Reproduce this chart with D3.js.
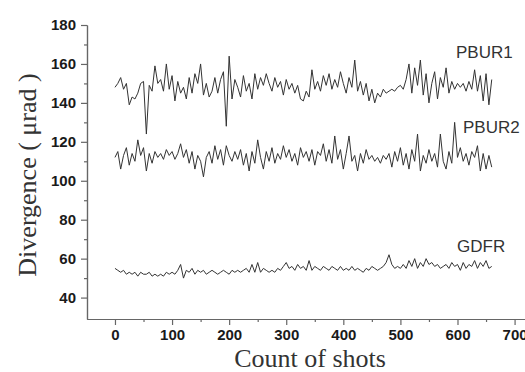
<!DOCTYPE html>
<html>
<head>
<meta charset="utf-8">
<script src="https://cdn.jsdelivr.net/npm/d3@7"></script>
<style>
    body { margin: 0; background: white; }
    #chart { width: 525px; height: 372px; overflow: hidden; }
</style>
</head>
<body>
<div id="chart"></div>
<script>
// shots are sampled every 5 shots, starting at 0
const shotStep = 5;

const pbur1 = [148, 150, 153, 147, 150, 139, 143, 142, 145, 150, 151, 124, 149, 146, 159, 150, 152, 146, 160, 147,
    154, 141, 151, 145, 148, 142, 153, 145, 155, 150, 160, 144, 150, 143, 146, 153, 145, 152, 156, 128,
    164, 142, 152, 148, 143, 154, 146, 150, 142, 155, 147, 153, 149, 155, 150, 146, 153, 148, 151, 144,
    152, 147, 150, 145, 149, 142, 141, 146, 143, 157, 147, 151, 146, 154, 149, 155, 147, 152, 148, 156,
    150, 145, 153, 148, 162, 146, 151, 144, 150, 141, 147, 140, 145, 143, 147, 145, 146, 147, 146, 148,
    149, 147, 152, 160, 145, 158, 149, 162, 144, 155, 140, 150, 156, 142, 153, 148, 158, 145, 151, 147,
    150, 148, 150, 146, 151, 147, 157, 146, 154, 141, 155, 139, 152];

const pbur2 = [112, 115, 106, 113, 117, 108, 114, 110, 121, 113, 117, 105, 114, 109, 115, 112, 114, 111, 116, 113,
    115, 111, 114, 119, 112, 116, 109, 115, 106, 113, 110, 102, 112, 115, 109, 118, 111, 116, 108, 118,
    113, 110, 115, 111, 116, 108, 114, 105, 115, 109, 121, 112, 106, 115, 110, 117, 109, 114, 111, 118,
    112, 116, 110, 114, 108, 117, 112, 115, 110, 116, 108, 115, 113, 119, 110, 116, 109, 123, 111, 116,
    106, 114, 123, 110, 113, 105, 114, 109, 116, 111, 113, 110, 112, 109, 113, 111, 114, 107, 115, 110,
    117, 108, 114, 106, 116, 110, 124, 105, 113, 109, 116, 110, 114, 107, 124, 110, 106, 115, 109, 130,
    112, 117, 110, 114, 108, 115, 112, 118, 105, 114, 106, 113, 107];

const gdfr = [55, 54, 53, 54, 52, 53, 52, 53, 51, 53, 52, 52, 53, 51, 52, 51, 52, 51, 53, 52,
    53, 52, 54, 57, 50, 54, 53, 55, 52, 54, 53, 54, 52, 53, 54, 53, 52, 53, 54, 53,
    52, 54, 53, 54, 53, 54, 55, 53, 57, 53, 58, 53, 55, 54, 53, 54, 53, 55, 54, 56,
    58, 55, 56, 54, 57, 55, 56, 54, 59, 54, 56, 55, 54, 56, 55, 54, 56, 55, 54, 56,
    54, 55, 54, 56, 54, 55, 54, 53, 55, 54, 56, 55, 54, 55, 56, 58, 62, 57, 55, 56,
    55, 57, 55, 59, 56, 60, 55, 58, 56, 60, 57, 58, 56, 57, 55, 56, 57, 55, 58, 56,
    57, 54, 58, 55, 57, 56, 59, 55, 58, 56, 59, 55, 56];

const seriesNames = ["PBUR1", "PBUR2", "GDFR"];
const seriesValues = [pbur1, pbur2, gdfr];

const yMajorTicks = [40, 60, 80, 100, 120, 140, 160, 180];
const yMinorTicks = [50, 70, 90, 110, 130, 150, 170];
const xMajorTicks = [0, 100, 200, 300, 400, 500, 600, 700];
const xMinorTicks = [50, 150, 250, 350, 450, 550, 650];

const width = 525, height = 372;

const svg = d3.select("#chart").append("svg")
    .attr("width", width)
    .attr("height", height)
    .style("background-color", "white");

const x = d3.scaleLinear().domain([-49, 720]).range([87, 526]);
const y = d3.scaleLinear().domain([29, 180]).range([319, 25]);

// axes
function styleAxis(g) {
    g.select(".domain").attr("stroke", "#666").attr("stroke-width", 1.2);
    g.selectAll(".tick line").attr("stroke", "#666").attr("stroke-width", 1.2);
    g.selectAll(".tick text")
        .attr("fill", "#1a1a1a")
        .style("font-family", "'Liberation Sans', Arial, sans-serif")
        .style("font-weight", "bold")
        .style("font-size", "15px");
}

svg.append("g")
    .attr("transform", "translate(0," + y(29) + ")")
    .call(d3.axisBottom(x).tickValues(xMinorTicks).tickSize(3).tickSizeOuter(0).tickFormat(""))
    .call(styleAxis);
svg.append("g")
    .attr("transform", "translate(0," + y(29) + ")")
    .call(d3.axisBottom(x).tickValues(xMajorTicks).tickSize(6).tickSizeOuter(0).tickPadding(4))
    .call(styleAxis);

svg.append("g")
    .attr("transform", "translate(" + x(-49) + ",0)")
    .call(d3.axisLeft(y).tickValues(yMinorTicks).tickSize(3).tickSizeOuter(0).tickFormat(""))
    .call(styleAxis);
svg.append("g")
    .attr("transform", "translate(" + x(-49) + ",0)")
    .call(d3.axisLeft(y).tickValues(yMajorTicks).tickSize(6).tickSizeOuter(0).tickPadding(5))
    .call(styleAxis);

// traces
const line = d3.line()
    .x(function (d, i) { return x(i * shotStep); })
    .y(function (d) { return y(d); });

svg.append("g").attr("class", "traces")
    .selectAll("path")
    .data(seriesValues)
    .enter()
    .append("path")
    .attr("d", line)
    .attr("fill", "none")
    .attr("stroke", "#333")
    .attr("stroke-width", 1)
    .attr("stroke-linejoin", "miter");

// series labels
const labelPos = [[456, 58], [463, 133], [457, 252]];
svg.append("g").selectAll("text")
    .data(seriesNames)
    .enter()
    .append("text")
    .attr("x", function (d, i) { return labelPos[i][0]; })
    .attr("y", function (d, i) { return labelPos[i][1]; })
    .attr("fill", "#333")
    .style("font-family", "'Liberation Sans', Arial, sans-serif")
    .style("font-size", "17px")
    .text(function (d) { return d; });

// axis titles
svg.append("text")
    .attr("x", 310)
    .attr("y", 367)
    .attr("text-anchor", "middle")
    .attr("fill", "#333")
    .style("font-family", "'Liberation Serif', 'Times New Roman', serif")
    .style("font-size", "26px")
    .text("Count of shots");

svg.append("text")
    .attr("transform", "translate(36,175) rotate(-90)")
    .attr("text-anchor", "middle")
    .attr("fill", "#333")
    .style("font-family", "'Liberation Serif', 'Times New Roman', serif")
    .style("font-size", "26px")
    .text("Divergence ( \u03bcrad )");
</script>
</body>
</html>
